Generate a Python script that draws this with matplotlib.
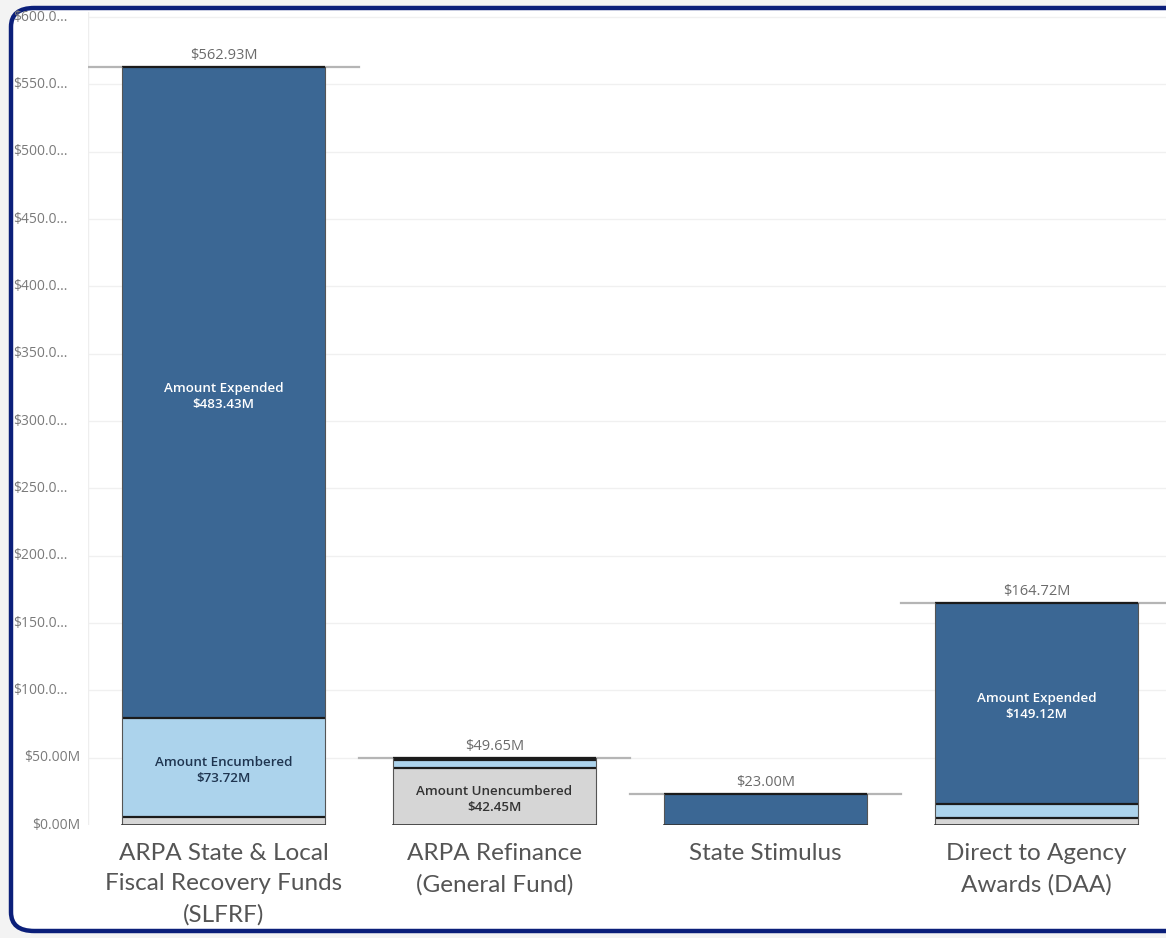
import matplotlib
matplotlib.use("Agg")
import matplotlib.pyplot as plt
from matplotlib.patches import FancyBboxPatch
from matplotlib.transforms import blended_transform_factory

categories = ["ARPA State & Local\nFiscal Recovery Funds\n(SLFRF)",
              "ARPA Refinance\n(General Fund)",
              "State Stimulus",
              "Direct to Agency\nAwards (DAA)"]
unencumbered = [5.78, 42.45, 0.0, 5.10]
encumbered = [73.72, 5.70, 0.0, 10.50]
expended = [483.43, 1.50, 23.00, 149.12]
totals = [562.93, 49.65, 23.00, 164.72]
total_labels = ["$562.93M", "$49.65M", "$23.00M", "$164.72M"]
ytick_values = [0, 50, 100, 150, 200, 250, 300, 350, 400, 450, 500, 550, 600]
ytick_labels = ["$0.00M", "$50.00M", "$100.0...", "$150.0...", "$200.0...", "$250.0...",
                "$300.0...", "$350.0...", "$400.0...", "$450.0...", "$500.0...",
                "$550.0...", "$600.0..."]
inner_labels = [
    ("Amount Encumbered\n$73.72M", 0, "enc"),
    ("Amount Expended\n$483.43M", 0, "exp"),
    ("Amount Unencumbered\n$42.45M", 1, "unenc"),
    ("Amount Expended\n$149.12M", 3, "exp"),
]

C_EXP = "#3b6794"
C_ENC = "#acd3ec"
C_UNE = "#d6d6d6"
EDGE = "#1b1b1b"

W, H = 1166, 938
fig = plt.figure(figsize=(W / 100, H / 100), dpi=100)
fig.patch.set_facecolor("#f3f3f3")

# frame
frame = FancyBboxPatch((11 / W, 7 / H), (W + 30) / W, (H - 15) / H,
                       boxstyle="round,pad=0,rounding_size=0.02",
                       transform=fig.transFigure, facecolor="white",
                       edgecolor="#0b1f7a", linewidth=3.2, zorder=-5, clip_on=False)
fig.patches.append(frame)

ax_left, ax_right = 88, 1172
ax_bottom_px, ax_top_px = 825, 12
ax = fig.add_axes([ax_left / W, (H - ax_bottom_px) / H,
                   (ax_right - ax_left) / W, (ax_bottom_px - ax_top_px) / H])
ax.set_zorder(2)
ax.set_facecolor("none")
ylim_top = 600 + (17 - ax_top_px) / ((ax_bottom_px - 17) / 600)
ax.set_ylim(0, ylim_top)
ax.set_xlim(-0.5, 3.5)
for s in ax.spines.values():
    s.set_visible(False)
ax.set_xticks([])
ax.set_yticks([])

for v in ytick_values[1:]:
    ax.axhline(v, color="#f0f0f0", lw=1.0, zorder=0)
ax.axvline(-0.5, color="#eeeeee", lw=1.0, zorder=0)

x = list(range(len(categories)))
bw = 0.75
bottom2 = [u + e for u, e in zip(unencumbered, encumbered)]
ax.bar(x, unencumbered, bw, color=C_UNE, zorder=2)
ax.bar(x, encumbered, bw, bottom=unencumbered, color=C_ENC, zorder=2)
ax.bar(x, expended, bw, bottom=bottom2, color=C_EXP, zorder=2)

# segment outlines (tops and sides)
for i in x:
    segs = [(0, unencumbered[i]), (unencumbered[i], encumbered[i]), (bottom2[i], expended[i])]
    for b, h in segs:
        if h <= 0:
            continue
        ax.plot([i - bw / 2, i + bw / 2], [b + h, b + h], color=EDGE, lw=1.6, zorder=3,
                solid_capstyle="butt")
    ax.plot([i - bw / 2, i - bw / 2], [0, totals[i]], color="#555555", lw=0.8, zorder=3)
    ax.plot([i + bw / 2, i + bw / 2], [0, totals[i]], color="#555555", lw=0.8, zorder=3)
    ax.plot([i - bw / 2, i + bw / 2], [0, 0], color="#333333", lw=1.2, zorder=3)
    # reference line at total
    ax.plot([i - 0.5, i + 0.5], [totals[i], totals[i]], color="#b5b5b5", lw=1.6, zorder=1)
    ax.text(i, totals[i] + 3, total_labels[i], ha="center", va="bottom",
            fontsize=10.5, color="#6b6b6b", family="Open Sans")

for text, i, seg in inner_labels:
    if seg == "exp":
        yc = bottom2[i] + expended[i] / 2 - 2
        col = "white"
    elif seg == "enc":
        yc = unencumbered[i] + encumbered[i] / 2 - 2
        col = "#1f3550"
    else:
        yc = unencumbered[i] / 2 - 2
        col = "#333333"
    if i == 0 and seg == "exp":
        yc = 318
    ax.text(i, yc, text, ha="center", va="center", fontsize=9.6, color=col,
            family="Open Sans", fontweight="semibold", linespacing=1.3)

# y tick labels
trans = blended_transform_factory(fig.transFigure, ax.transData)
for v, lab in zip(ytick_values, ytick_labels):
    if lab.endswith("..."):
        ax.text(13 / W, v, lab, transform=trans, ha="left", va="center",
                fontsize=10, color="#7a7a7a", family="Open Sans", clip_on=False)
    else:
        ax.text(80 / W, v, lab, transform=trans, ha="right", va="center",
                fontsize=10, color="#7a7a7a", family="Open Sans", clip_on=False)

# category labels
for i, c in enumerate(categories):
    ax.text(i, -13, c, ha="center", va="top", fontsize=17.5, color="#555555",
            family="Lato", linespacing=1.58, clip_on=False)

fig.savefig("out.png", dpi=100, facecolor=fig.get_facecolor())
